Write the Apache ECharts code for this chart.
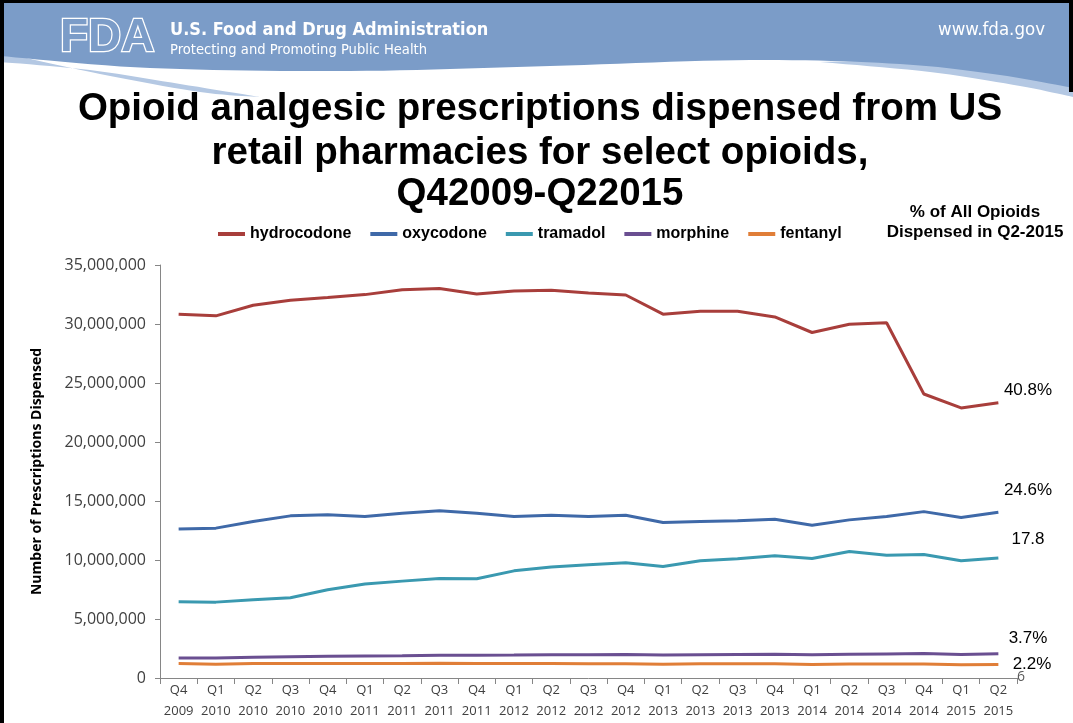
<!DOCTYPE html>
<html><head><meta charset="utf-8">
<script src="https://cdn.jsdelivr.net/npm/echarts@6/dist/echarts.min.js"></script>
<style>html,body{margin:0;padding:0;background:#fff;overflow:hidden}#c{width:1073px;height:723px}</style>
</head><body><div id="c"></div>
<script>
// ---- data ----
const quarters = ['Q4','Q1','Q2','Q3','Q4','Q1','Q2','Q3','Q4','Q1','Q2','Q3','Q4','Q1','Q2','Q3','Q4','Q1','Q2','Q3','Q4','Q1','Q2'];
const years = ['2009','2010','2010','2010','2010','2011','2011','2011','2011','2012','2012','2012','2012','2013','2013','2013','2013','2014','2014','2014','2014','2015','2015'];
const seriesNames = ['hydrocodone','oxycodone','tramadol','morphine','fentanyl'];
const hydrocodone = [30830000,30690000,31590000,32020000,32240000,32490000,32910000,33000000,32550000,32800000,32860000,32630000,32460000,30830000,31080000,31080000,30600000,29280000,29980000,30100000,24070000,22890000,23330000];
const oxycodone = [12620000,12700000,13260000,13740000,13830000,13680000,13970000,14170000,13970000,13680000,13800000,13680000,13800000,13180000,13260000,13320000,13460000,12950000,13400000,13680000,14100000,13600000,14050000];
const tramadol = [6460000,6430000,6630000,6800000,7480000,7960000,8210000,8430000,8410000,9080000,9400000,9590000,9760000,9450000,9930000,10100000,10360000,10130000,10720000,10410000,10470000,9930000,10160000];
const morphine = [1700000,1700000,1760000,1800000,1840000,1870000,1890000,1920000,1930000,1940000,1960000,1970000,2000000,1950000,1980000,2000000,2020000,1960000,2010000,2040000,2070000,2000000,2050000];
const fentanyl = [1220000,1170000,1220000,1220000,1230000,1230000,1230000,1240000,1230000,1220000,1220000,1210000,1210000,1170000,1200000,1200000,1200000,1150000,1180000,1190000,1190000,1120000,1140000];
const shareLabels = ['40.8%','24.6%','17.8','3.7%','2.2%'];
const yTicks = [0,5000000,10000000,15000000,20000000,25000000,30000000,35000000];

const categories = quarters.map((q,i)=>q+'\n'+years[i]);
const colors = ['#A83E3B','#3F69A8','#3A99B0','#6A4F91','#E07E38'];
const values = [hydrocodone,oxycodone,tramadol,morphine,fentanyl];

// ---- header shape helpers (decoration only) ----
function catmull(pts,n){
  const out=[];
  for(let i=0;i<pts.length-1;i++){
    const p0=pts[Math.max(i-1,0)],p1=pts[i],p2=pts[i+1],p3=pts[Math.min(i+2,pts.length-1)];
    for(let k=0;k<n;k++){
      const t=k/n,t2=t*t,t3=t2*t;
      const f=(a,b,c,d)=>0.5*((2*b)+(-a+c)*t+(2*a-5*b+4*c-d)*t2+(-a+3*b-3*c+d)*t3);
      out.push([f(p0[0],p1[0],p2[0],p3[0]),f(p0[1],p1[1],p2[1],p3[1])]);
    }
  }
  out.push(pts[pts.length-1]);
  return out;
}
const bottomCurve = catmull([[0,56],[150,68],[350,71],[550,66],[750,60],[900,64],[1000,75],[1073,88]],12);
const headerPoly = [[0,0],[1073,0]].concat(bottomCurve.slice().reverse());
const swooshLeft = catmull([[0,52],[100,74],[200,92],[260,97]],10).concat(catmull([[260,97],[180,84],[90,70],[0,62]],10));
const swooshRight = catmull([[820,62],[930,72],[1020,86],[1073,97]],10).concat([[1073,80],[900,60]]);

const hdrFont = "'DejaVu Sans Condensed','Liberation Sans',sans-serif";
const arial = "'Liberation Sans',Arial,sans-serif";
const labelFont = "'Open Sans','Liberation Sans',sans-serif";

const endLabelPos = [[1028,390],[1028,490],[1028,539],[1028,638],[1032,664]];

const graphic = [
  {type:'polygon',shape:{points:swooshLeft},style:{fill:'#B4C8E3'},z:1},
  {type:'polygon',shape:{points:swooshRight},style:{fill:'#B4C8E3'},z:1},
  {type:'polygon',shape:{points:headerPoly},style:{fill:'#7B9CC8'},z:2},
  {type:'rect',shape:{x:0,y:0,width:1073,height:3},style:{fill:'#000'},z:5},
  {type:'rect',shape:{x:0,y:0,width:4,height:723},style:{fill:'#000'},z:5},
  {type:'rect',shape:{x:1069,y:0,width:4,height:92},style:{fill:'#000'},z:5},
  {type:'text',x:60,y:15,style:{text:'FDA',fill:'#7B9CC8',stroke:'#fff',lineWidth:2.5,font:"900 46px 'Liberation Sans',sans-serif"},z:6},
  {type:'text',x:170,y:30,style:{text:'U.S. Food and Drug Administration',fill:'#fff',font:"bold 18px "+hdrFont,textVerticalAlign:'middle'},z:6},
  {type:'text',x:170,y:50,style:{text:'Protecting and Promoting Public Health',fill:'#fff',font:"14.6px "+hdrFont,textVerticalAlign:'middle'},z:6},
  {type:'text',x:1045,y:30,style:{text:'www.fda.gov',fill:'#fff',font:"18.5px "+hdrFont,textAlign:'right',textVerticalAlign:'middle'},z:6},
  {type:'text',x:540,y:109,style:{text:'Opioid analgesic prescriptions dispensed from US',fill:'#000',font:"bold 38.5px "+arial,textAlign:'center',textVerticalAlign:'middle'},z:6},
  {type:'text',x:540,y:153,style:{text:'retail pharmacies for select opioids,',fill:'#000',font:"bold 38.5px "+arial,textAlign:'center',textVerticalAlign:'middle'},z:6},
  {type:'text',x:540,y:194,style:{text:'Q42009-Q22015',fill:'#000',font:"bold 38.5px "+arial,textAlign:'center',textVerticalAlign:'middle'},z:6},
  {type:'text',x:975,y:212,style:{text:'% of All Opioids',fill:'#000',font:"bold 17px "+arial,textAlign:'center',textVerticalAlign:'middle'},z:6},
  {type:'text',x:975,y:232,style:{text:'Dispensed in Q2-2015',fill:'#000',font:"bold 17px "+arial,textAlign:'center',textVerticalAlign:'middle'},z:6},
  {type:'text',x:1021,y:677,style:{text:'6',fill:'#595959',font:"14px "+labelFont,textAlign:'center',textVerticalAlign:'middle'},z:6}
];
shareLabels.forEach((t,i)=>{
  graphic.push({type:'text',x:endLabelPos[i][0],y:endLabelPos[i][1],style:{text:t,fill:'#000',font:"17px "+arial,textAlign:'center',textVerticalAlign:'middle'},z:6});
});

const chart = echarts.init(document.getElementById('c'),null,{renderer:'canvas'});
chart.setOption({
  animation:false,
  backgroundColor:'#fff',
  color:colors,
  graphic:graphic,
  legend:{
    left:213, top:221, itemWidth:27, itemHeight:4, itemGap:19, icon:'rect',
    textStyle:{fontFamily:arial,fontWeight:'bold',fontSize:16,color:'#000'},
    data:seriesNames
  },
  grid:{left:160,right:56,top:265,bottom:45,containLabel:false},
  xAxis:{
    type:'category', data:categories, boundaryGap:true,
    axisLine:{lineStyle:{color:'#868686',width:1}},
    axisTick:{show:true,length:6,alignWithLabel:false,lineStyle:{color:'#868686'}},
    axisLabel:{interval:0,margin:2,lineHeight:21,fontSize:13,fontFamily:labelFont,color:'#404040'},
    splitLine:{show:false}
  },
  yAxis:{
    type:'value', min:yTicks[0], max:yTicks[yTicks.length-1], interval:yTicks[1]-yTicks[0],
    name:'Number of Prescriptions Dispensed', nameLocation:'middle', nameGap:116, nameRotate:90,
    nameTextStyle:{fontFamily:labelFont,fontWeight:'bold',fontSize:14,color:'#000'},
    axisLine:{show:true,lineStyle:{color:'#868686',width:1}},
    axisTick:{show:true,length:5,lineStyle:{color:'#868686'}},
    axisLabel:{margin:14,fontSize:16,fontFamily:labelFont,color:'#404040',formatter:v=>v.toLocaleString('en-US')},
    splitLine:{show:false}
  },
  series:seriesNames.map((n,i)=>({
    name:n,type:'line',data:values[i],symbol:'none',smooth:false,
    lineStyle:{width:3,color:colors[i]},itemStyle:{color:colors[i]},z:3
  }))
});
</script></body></html>
